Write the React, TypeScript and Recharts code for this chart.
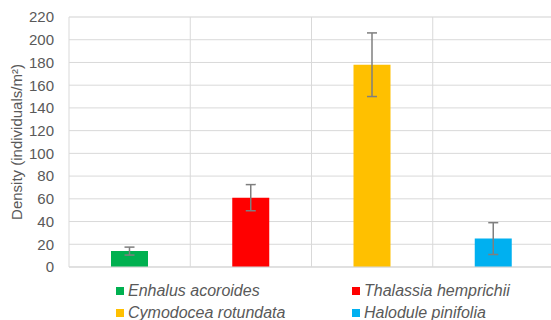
import React from 'react';
import { BarChart, Bar, XAxis, YAxis, CartesianGrid, ErrorBar, Cell } from 'recharts';

const SPECIES = ['Enhalus acoroides', 'Thalassia hemprichii', 'Cymodocea rotundata', 'Halodule pinifolia'];
const DENSITY = [14, 61, 178, 25];
const DENSITY_SD = [3.5, 11.5, 28, 14];
const COLORS = ['#00b050', '#ff0000', '#ffc000', '#00b0f0'];
const MAJOR_TICKS = [0, 20, 40, 60, 80, 100, 120, 140, 160, 180, 200, 220];
const MINOR_TICKS = [0, 10, 20, 30, 40, 50, 60, 70, 80, 90, 100, 110, 120, 130, 140, 150, 160, 170, 180, 190, 200, 210, 220];

const FONT = '"Liberation Sans", Arial, sans-serif';
const TEXT = '#595959';

const data = SPECIES.map((name, i) => ({ name, density: DENSITY[i], err: DENSITY_SD[i] }));

// category boundaries instead of centres (right edge runs off the page)
const bandLines = ({ offset }: any) =>
  SPECIES.map((_, i) => offset.left + (i * offset.width) / SPECIES.length);

// legend laid out in two columns under the plot
const LEGEND_POS = [
  { left: 116, top: 281 },
  { left: 352, top: 281 },
  { left: 116, top: 303 },
  { left: 352, top: 303 },
];

function SpeciesLegend() {
  return (
    <>
      {SPECIES.map((name, i) => (
        <div
          key={name}
          style={{
            position: 'absolute',
            left: LEGEND_POS[i].left,
            top: LEGEND_POS[i].top,
            height: 20,
            display: 'flex',
            alignItems: 'center',
            fontFamily: FONT,
            fontStyle: 'italic',
            fontSize: 16,
            color: TEXT,
            whiteSpace: 'nowrap',
          }}
        >
          <span style={{ display: 'inline-block', width: 8, height: 8, background: COLORS[i], marginRight: 4 }} />
          {name}
        </div>
      ))}
    </>
  );
}

export default function App() {
  return (
    <div style={{ position: 'absolute', left: 0, top: 0, width: 551, height: 320, overflow: 'hidden', background: '#fff' }}>
      <BarChart width={600} height={300} data={data} margin={{ top: 17, right: 46, bottom: 30, left: 0 }}>
        <CartesianGrid yAxisId="minor" vertical={false} stroke="#f0f0f0" />
        <CartesianGrid stroke="#d9d9d9" verticalCoordinatesGenerator={bandLines} />
        <XAxis dataKey="name" tick={false} tickLine={false} height={3} axisLine={{ stroke: '#d9d9d9' }} />
        <YAxis yAxisId="minor" hide domain={[0, 220]} ticks={MINOR_TICKS} />
        <YAxis
          domain={[0, 220]}
          ticks={MAJOR_TICKS}
          interval={0}
          width={69}
          axisLine={false}
          tickLine={false}
          tickSize={0}
          tickMargin={15}
          tick={{ fill: TEXT, fontSize: 15, fontFamily: FONT }}
          label={{
            value: 'Density (individuals/m²)',
            angle: -90,
            position: 'insideLeft',
            offset: 17,
            style: { textAnchor: 'middle', fill: TEXT, fontSize: 15, fontFamily: FONT },
          }}
        />
        <Bar dataKey="density" barSize={37} isAnimationActive={false}>
          {data.map((d, i) => (
            <Cell key={d.name} fill={COLORS[i]} />
          ))}
          <ErrorBar dataKey="err" width={5} stroke="#7f7f7f" strokeWidth={1.5} />
        </Bar>
      </BarChart>
      <SpeciesLegend />
    </div>
  );
}
